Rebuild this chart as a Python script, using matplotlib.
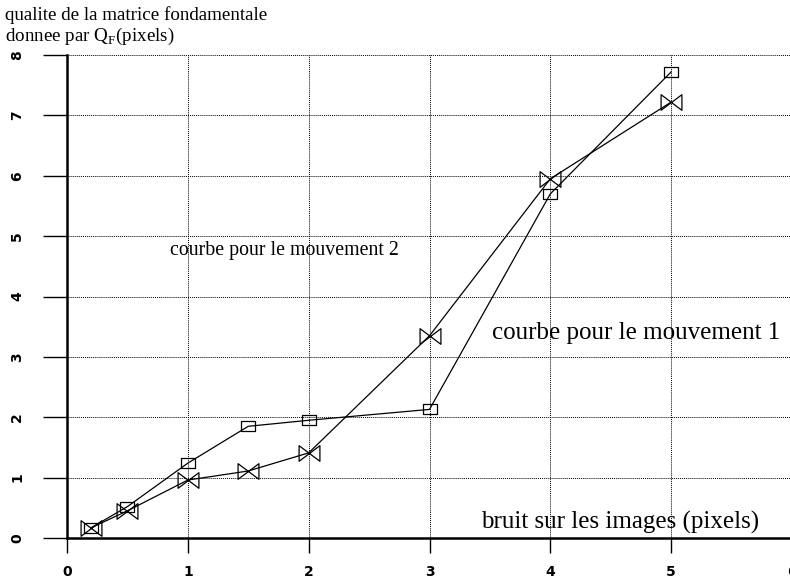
import matplotlib
matplotlib.use("Agg")
import matplotlib.pyplot as plt
from matplotlib.path import Path

noise = [0.2, 0.5, 1.0, 1.5, 2.0, 3.0, 4.0, 5.0]
mouvement1 = [0.17, 0.52, 1.24, 1.85, 1.95, 2.13, 5.70, 7.72]
mouvement2 = [0.17, 0.45, 0.96, 1.11, 1.41, 3.35, 5.95, 7.22]
xticks = [0, 1, 2, 3, 4, 5, 6]
yticks = [0, 1, 2, 3, 4, 5, 6, 7, 8]

plt.rcParams['mathtext.fontset'] = 'custom'
plt.rcParams['mathtext.rm'] = 'Liberation Serif'

fig = plt.figure(figsize=(7.9, 5.81), dpi=100)
W, H = 790, 581
PX = 72 / 100  # points per pixel
ax = fig.add_axes([67 / W, (H - 538) / H, (792 - 67) / W, (538 - 55) / H])
ax.set_xlim(0, 6)
ax.set_ylim(0, 8)

rect = Path([(-1, -0.7), (1, -0.7), (1, 0.7), (-1, 0.7), (-1, -0.7)],
            [Path.MOVETO, Path.LINETO, Path.LINETO, Path.LINETO, Path.CLOSEPOLY])
bowtie = Path([(-1, -0.75), (1, 0.75), (1, -0.75), (-1, 0.75), (-1, -0.75)],
              [Path.MOVETO, Path.LINETO, Path.LINETO, Path.LINETO, Path.CLOSEPOLY])

ax.plot(noise, mouvement1, color='black', lw=0.9, marker=rect, markersize=10,
        markerfacecolor='none', markeredgecolor='black', markeredgewidth=0.9, zorder=3)
ax.plot(noise, mouvement2, color='black', lw=0.9, marker=bowtie, markersize=15,
        markerfacecolor='none', markeredgecolor='black', markeredgewidth=0.9, zorder=3)

ax.set_xticks(xticks)
ax.set_yticks(yticks)
ax.grid(True, color='black', linestyle=(0, (1, 1)), linewidth=0.7)
ax.set_axisbelow(True)
for s in ['top', 'right']:
    ax.spines[s].set_visible(False)
for s in ['left', 'bottom']:
    ax.spines[s].set_linewidth(1.8)
ax.tick_params(axis='y', length=24 * PX, width=1.0, direction='out', pad=19 * PX,
               labelsize=10, labelrotation=90)
ax.tick_params(axis='x', length=15 * PX, width=1.0, direction='out', pad=12 * PX,
               labelsize=10)
for lab in ax.get_xticklabels() + ax.get_yticklabels():
    lab.set_fontfamily('DejaVu Sans')
    lab.set_fontweight('bold')
for lab in ax.get_yticklabels():
    lab.set_verticalalignment('center')

serif = 'Liberation Serif'
fig.text(5 / W, 1 - 15 / H, "qualite de la matrice fondamentale", family=serif,
         fontsize=13.7, va='center', ha='left')
fig.text(5 / W, 1 - 36 / H, r"donnee par Q$_{\mathrm{F}}$(pixels)", family=serif,
         fontsize=13.7, va='center', ha='left')
fig.text(170 / W, 1 - 250 / H, "courbe pour le mouvement 2", family=serif,
         fontsize=14.3, va='center', ha='left')
fig.text(492 / W, 1 - 333 / H, "courbe pour le mouvement 1", family=serif,
         fontsize=18, va='center', ha='left')
fig.text(481 / W, 1 - 522 / H, "bruit sur les images (pixels)", family=serif,
         fontsize=18, va='center', ha='left')

fig.savefig("out.png", dpi=100)
